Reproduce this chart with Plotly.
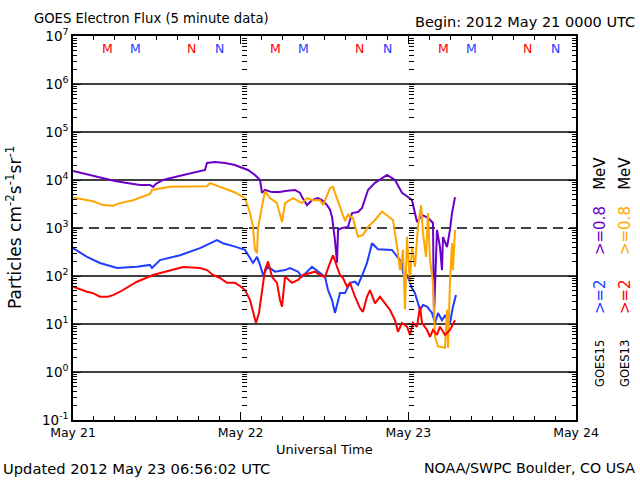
import math
from datetime import datetime, timedelta
import plotly.graph_objects as go

START = datetime(2012, 5, 21)

# ---------------- data (hours since 2012-05-21 00:00 UT, flux) ----------------
G15_E08_H = [0, 1.72, 3.86, 6.01, 7.73, 9.59, 11.02, 11.45, 11.88, 12.88, 14.6, 17.18, 18.89, 19.18,
             20.33, 21.76, 23.19, 23.9, 25.05, 26.05, 26.77, 27.05, 27.48, 28.49, 29.63, 30.35, 31.78,
             32.5, 32.78, 33.5, 34.21, 35.07, 35.64, 36.36, 36.79, 37.08, 37.5, 37.79, 37.94, 38.51,
             39.37, 39.94, 40.8, 41.37, 42.23, 43.23, 44.95, 46.09, 47.09, 47.81, 48.52, 49.24, 49.96,
             50.82, 51.53, 51.67, 52.1, 52.53, 52.82, 52.96, 53.54, 53.96, 54.25, 54.68]
G15_E08_V = [1.54e4, 1.33e4, 1.10e4, 9.5e3, 8.7e3, 7.9e3, 7.9e3, 7.2e3, 8.3e3, 1.0e4, 1.15e4, 1.4e4,
             1.62e4, 2.26e4, 2.37e4, 2.26e4, 2.05e4, 1.87e4, 1.62e4, 1.27e4, 1.0e4, 5.4e3, 6.2e3, 5.6e3,
             5.6e3, 5.9e3, 6.2e3, 5.4e3, 4.4e3, 3.0e3, 3.8e3, 4.2e3, 3.8e3, 3.0e3, 2.4e3, 1.7e3, 5.6e2,
             1.9e2, 9.1e2, 1.0e3, 1.05e3, 2.05e3, 2.15e3, 2.6e3, 6.2e3, 8.7e3, 1.27e4, 1.0e4, 5.4e3,
             4.6e3, 3.8e3, 1.33e3, 1.87e3, 1.62e3, 1.27e3, 14, 9.1e2, 4.0e2, 1.33e2, 6.5e2, 4.0e2,
             9.1e2, 2.05e3, 4.4e3]

G15_E2_H = [0, 2.0, 3.86, 6.3, 9.16, 11.02, 11.31, 12.45, 15.32, 18.18, 20.61, 21.47, 23.19, 24.62,
            25.77, 26.34, 26.77, 27.2, 27.91, 28.91, 30.35, 31.06, 32.21, 32.78, 34.21, 35.07, 36.07,
            36.5, 37.08, 37.5, 38.22, 38.94, 39.65, 40.37, 40.8, 41.51, 42.08, 42.8, 43.23, 43.66,
            45.66, 46.38, 47.09, 47.24, 47.81, 48.52, 48.95, 49.67, 50.1, 50.67, 51.39, 51.82, 52.25,
            52.82, 53.25, 53.96, 54.39, 54.82]
G15_E2_V = [3.8e2, 2.5e2, 1.87e2, 1.47e2, 1.56e2, 1.7e2, 1.47e2, 2.15e2, 2.7e2, 3.8e2, 5.6e2, 4.8e2,
            4.1e2, 3.5e2, 1.87e2, 2.5e2, 1.7e2, 1.05e2, 1.56e2, 1.23e2, 1.33e2, 1.47e2, 1.23e2, 96,
            1.56e2, 1.23e2, 96, 51, 31.6, 17, 44, 44, 72, 76, 65, 1.13e2, 1.87e2, 4.8e2, 4.1e2, 3.6e2,
            3.5e2, 2.5e2, 1.87e2, 1.15e2, 1.05e2, 56, 44, 19.6, 25, 23, 17, 10.5, 17, 12, 15, 10.5,
            23, 40]

G13_E08_H = [0, 2.86, 4.29, 5.73, 6.73, 8.59, 11.02, 11.31, 13.88, 19.18, 19.61, 21.47, 23.19, 24.62,
             25.34, 25.77, 26.05, 26.34, 26.48, 27.05, 27.48, 28.2, 29.2, 29.92, 30.35, 31.49, 32.78,
             33.5, 34.35, 35.36, 35.79, 36.79, 37.22, 37.5, 38.22, 38.94, 39.37, 40.08, 40.8, 41.51,
             42.23, 43.23, 44.23, 45.09, 45.8, 46.38, 46.81, 47.24, 47.52, 47.81, 48.24, 48.52, 48.95,
             49.38, 49.81, 50.1, 50.53, 50.82, 51.1, 51.53, 51.82, 52.25, 53.25, 53.54, 53.68, 53.96,
             54.25, 54.39, 54.68]
G13_E08_V = [4.3e3, 3.6e3, 3.0e3, 2.9e3, 3.3e3, 3.8e3, 5.1e3, 6.2e3, 7.2e3, 7.4e3, 8.6e3, 6.8e3,
             5.5e3, 4.2e3, 2.05e3, 1.05e3, 3.5e2, 3.0e2, 1.0e3, 2.8e3, 5.8e3, 4.2e3, 3.3e3, 1.33e3,
             3.3e3, 4.2e3, 3.3e3, 4.2e3, 3.8e3, 3.8e3, 3.0e3, 6.8e3, 7.2e3, 5.4e3, 2.7e3, 1.4e3, 1.9e3,
             1.6e3, 6.6e2, 7.2e2, 1.05e3, 1.47e3, 2.2e3, 1.75e3, 1.47e3, 4.1e2, 1.33e2, 3.5e2, 20,
             6.6e2, 72, 4.1e2, 1.56e2, 1.05e3, 3.0e3, 7.9e2, 2.5e2, 2.05e3, 2.15e2, 72, 5.4, 3.4, 3.2,
             20, 3.2, 72, 4.8e2, 1.33e2, 9.1e2]

G13_E2_H = [0, 2.0, 2.86, 3.86, 5.01, 5.73, 6.73, 9.16, 11.45, 13.88, 15.75, 18.18, 19.18, 20.04,
            21.04, 22.04, 23.19, 23.9, 24.62, 25.34, 25.77, 26.19, 26.62, 27.05, 27.48, 27.91, 28.49,
            29.2, 29.63, 29.92, 30.35, 31.35, 32.21, 32.92, 33.64, 34.64, 35.36, 36.07, 36.79, 37.22,
            37.79, 38.22, 38.65, 39.22, 39.65, 40.37, 41.08, 41.51, 42.08, 42.51, 43.23, 43.94, 44.66,
            45.38, 46.09, 46.52, 47.09, 47.81, 48.24, 48.67, 49.24, 49.67, 49.96, 50.67, 51.1, 51.53,
            52.1, 52.53, 53.25, 53.96, 54.68]
G13_E2_V = [60, 47, 44, 37, 37, 40, 47, 76, 1.05e2, 1.33e2, 1.54e2, 1.47e2, 1.33e2, 1.05e2, 91, 72,
            72, 62, 51, 31.6, 17, 10.5, 17, 51, 1.33e2, 2.0e2, 96, 72, 31.6, 23, 96, 72, 83, 1.05e2,
            1.13e2, 1.23e2, 1.05e2, 96, 1.87e2, 2.7e2, 1.56e2, 1.05e2, 91, 60, 72, 37, 21.5, 18, 37,
            51, 27, 37, 27, 19.6, 12, 6.9, 10.5, 8.8, 5.9, 10.5, 8.8, 23, 10.5, 7.5, 5.4, 7.5, 5.9,
            8.8, 5.9, 7.5, 12]

DAY_LABELS = ["May 21", "May 22", "May 23", "May 24"]
DECADE_EXP = [-1, 0, 1, 2, 3, 4, 5, 6, 7]
GRID_SOLID = [1, 10, 100, 1e4, 1e5, 1e6]
ALERT_LEVEL = 1e3
# local midnight (M) / noon (N) hours (UT) for each satellite
G13_MARKS = [(5, "M"), (17, "N")]
G15_MARKS = [(9, "M"), (21, "N")]

C_PURPLE = "#6a00c8"
C_BLUE = "#1f3cff"
C_ORANGE = "#ffa500"
C_RED = "#ff0000"
FONT = "DejaVu Sans"


def to_time(hours):
    return [START + timedelta(hours=h) for h in hours]


fig = go.Figure()
for h, v, c in [(G15_E08_H, G15_E08_V, C_PURPLE), (G15_E2_H, G15_E2_V, C_BLUE),
                (G13_E08_H, G13_E08_V, C_ORANGE), (G13_E2_H, G13_E2_V, C_RED)]:
    fig.add_trace(go.Scatter(x=to_time(h), y=v, mode="lines", line=dict(color=c, width=2),
                             showlegend=False, hoverinfo="skip"))

days = [START + timedelta(days=i) for i in range(4)]
minor_x = [START + timedelta(hours=3 * i) for i in range(25)]
decades = [10.0 ** e for e in DECADE_EXP]
minor_y = [k * 10.0 ** e for e in DECADE_EXP[:-1] for k in range(2, 10)]

# invisible traces so the day-boundary rulers render
for ax in ["y2", "y3"]:
    fig.add_trace(go.Scatter(x=[days[0]], y=[1], yaxis=ax, mode="markers",
                             marker=dict(opacity=0), showlegend=False, hoverinfo="skip"))

common_y = dict(type="log", range=[-1, 7], fixedrange=True)
fig.update_layout(
    width=640, height=480,
    margin=dict(l=73, r=64, t=36, b=60),
    paper_bgcolor="white", plot_bgcolor="white",
    font=dict(family=FONT, color="black"),
    showlegend=False,
    xaxis=dict(type="date", range=[days[0], days[3]], tickvals=days, ticktext=DAY_LABELS,
               ticks="inside", ticklen=8, tickcolor="black", tickwidth=1, fixedrange=True,
               showline=True, linecolor="black", linewidth=1.5, mirror="ticks",
               showgrid=False, zeroline=False, tickfont=dict(size=12.5, family=FONT),
               minor=dict(tickvals=minor_x, ticks="inside", ticklen=4, tickcolor="black",
                          showgrid=False)),
    yaxis=dict(**common_y, tickvals=decades,
               ticktext=[f"10<sup>{e}</sup>" for e in DECADE_EXP],
               ticks="inside", ticklen=8, tickcolor="black",
               showline=True, linecolor="black", linewidth=1.5, mirror="ticks",
               showgrid=False, zeroline=False, tickfont=dict(size=13.5, family=FONT),
               minor=dict(tickvals=minor_y, ticks="inside", ticklen=4, tickcolor="black",
                          showgrid=False)),
    yaxis2=dict(**common_y, overlaying="y", anchor="free", position=1 / 3, side="left",
                showline=False, showticklabels=False, showgrid=False, zeroline=False,
                tickvals=decades, ticks="inside", ticklen=6, tickcolor="black",
                minor=dict(tickvals=minor_y, ticks="inside", ticklen=5, tickcolor="black",
                           showgrid=False)),
    yaxis3=dict(**common_y, overlaying="y", anchor="free", position=2 / 3, side="left",
                showline=False, showticklabels=False, showgrid=False, zeroline=False,
                tickvals=decades, ticks="inside", ticklen=6, tickcolor="black",
                minor=dict(tickvals=minor_y, ticks="inside", ticklen=5, tickcolor="black",
                           showgrid=False)),
)

# horizontal reference lines (shapes on a log axis take data values)
for g in GRID_SOLID:
    fig.add_shape(type="line", xref="paper", x0=0, x1=1, yref="y", y0=g, y1=g,
                  line=dict(color="black", width=1.3), layer="below")
fig.add_shape(type="line", xref="paper", x0=0, x1=1, yref="y", y0=ALERT_LEVEL, y1=ALERT_LEVEL,
              line=dict(color="black", width=1.3, dash="10px,6px"), layer="below")

# M / N markers
for d in range(3):
    for marks, col in [(G13_MARKS, C_RED), (G15_MARKS, C_BLUE)]:
        for hr, lab in marks:
            fig.add_annotation(x=START + timedelta(days=d, hours=hr), y=6.75, xref="x", yref="y",
                               text=lab, showarrow=False, font=dict(size=12.5, color=col))

ann = [
    dict(text="GOES Electron Flux (5 minute data)", x=0, xshift=-41, y=1, yshift=18,
         xanchor="left", yanchor="middle", font=dict(size=13.2)),
    dict(text="Begin: 2012 May 21 0000 UTC", x=1, xshift=61, y=1, yshift=14,
         xanchor="right", yanchor="middle", font=dict(size=14.5)),
    dict(text="Universal Time", x=0.5, y=0, yshift=-29, xanchor="center", yanchor="middle",
         font=dict(size=13)),
    dict(text="Updated 2012 May 23 06:56:02 UTC", x=0, xshift=-72, y=0, yshift=-48,
         xanchor="left", yanchor="middle", font=dict(size=14.7)),
    dict(text="NOAA/SWPC Boulder, CO USA", x=1, xshift=61, y=0, yshift=-48,
         xanchor="right", yanchor="middle", font=dict(size=14.2)),
    dict(text="Particles cm<sup>-2</sup>s<sup>-1</sup>sr<sup>-1</sup>", x=0, xshift=-59,
         y=0.5, xanchor="center", yanchor="middle", textangle=-90, font=dict(size=17)),
]
# right-hand legend columns: (text, colour, paper y, font size)
legend_cols = [
    (24, [("MeV", "black", 0.641, 15), (">=0.8", C_PURPLE, 0.492, 15), (">=2", C_BLUE, 0.320, 15),
          ("GOES15", "black", 0.146, 11.5)]),
    (49, [("MeV", "black", 0.641, 15), (">=0.8", C_ORANGE, 0.492, 15), (">=2", C_RED, 0.320, 15),
          ("GOES13", "black", 0.146, 11.5)]),
]
for xs, items in legend_cols:
    for txt, col, yy, sz in items:
        ann.append(dict(text=txt, x=1, xshift=xs, y=yy, xanchor="center", yanchor="middle",
                        textangle=-90, font=dict(size=sz, color=col)))
for a in ann:
    a.setdefault("xref", "paper")
    a.setdefault("yref", "paper")
    a.setdefault("showarrow", False)
    fig.add_annotation(**a)

fig.write_html("out.html", config={"displayModeBar": False},
               post_script="document.body.style.margin='0';")
